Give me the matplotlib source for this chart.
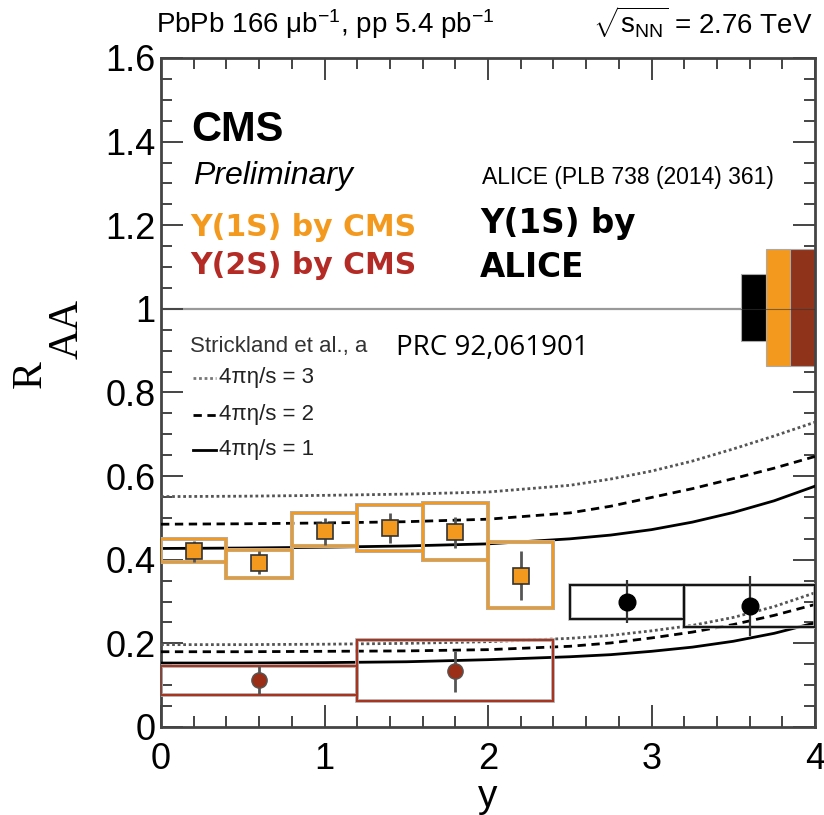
import numpy as np
import matplotlib
matplotlib.use("Agg")
import matplotlib.pyplot as plt
from matplotlib.ticker import MultipleLocator

plt.rcParams['font.family'] = ['Liberation Sans', 'DejaVu Sans']
plt.rcParams['mathtext.fontset'] = 'custom'
plt.rcParams['mathtext.rm'] = 'Liberation Sans'
plt.rcParams['mathtext.it'] = 'Liberation Sans:italic'

# CMS Y(1S)
y1s_x = [0.2, 0.6, 1.0, 1.4, 1.8, 2.2]
y1s_val = [0.420, 0.393, 0.468, 0.477, 0.466, 0.362]
y1s_err = [0.026, 0.027, 0.032, 0.036, 0.037, 0.058]
y1s_box_x = [0.0, 0.4, 0.8, 1.2, 1.6, 2.0]
y1s_box_w = [0.4, 0.4, 0.4, 0.4, 0.4, 0.4]
y1s_sys_lo = [0.394, 0.357, 0.432, 0.420, 0.400, 0.285]
y1s_sys_hi = [0.450, 0.424, 0.511, 0.532, 0.535, 0.442]

# CMS Y(2S)
y2s_x = [0.6, 1.8]
y2s_val = [0.113, 0.133]
y2s_err = [0.033, 0.049]
y2s_box_x = [0.0, 1.2]
y2s_box_w = [1.2, 1.2]
y2s_sys_lo = [0.077, 0.062]
y2s_sys_hi = [0.145, 0.207]

# ALICE Y(1S)
alice_x = [2.85, 3.6]
alice_val = [0.300, 0.290]
alice_err = [0.052, 0.072]
alice_box_x = [2.5, 3.2]
alice_box_w = [0.7, 0.8]
alice_sys_lo = [0.258, 0.240]
alice_sys_hi = [0.340, 0.340]

# global uncertainties at R_AA = 1 (ALICE, CMS 1S, CMS 2S)
gbl_x = [3.55, 3.70, 3.85]
gbl_w = [0.15, 0.15, 0.15]
gbl_lo = [0.923, 0.864, 0.864]
gbl_hi = [1.084, 1.144, 1.144]
gbl_col = ['black', '#F39A1E', '#8F331B']

# Strickland et al. curves
th_x = [0, 0.5, 1, 1.5, 2, 2.5, 2.75, 3, 3.25, 3.5, 3.75, 4]
th1_eta3 = [0.551, 0.552, 0.554, 0.557, 0.562, 0.578, 0.593, 0.612, 0.636,
            0.665, 0.696, 0.729]
th1_eta2 = [0.485, 0.486, 0.488, 0.491, 0.497, 0.512, 0.528, 0.549, 0.570,
            0.594, 0.619, 0.647]
th1_eta1 = [0.427, 0.428, 0.430, 0.433, 0.438, 0.450, 0.459, 0.472, 0.490,
            0.513, 0.541, 0.576]
th2_eta3 = [0.197, 0.197, 0.198, 0.200, 0.204, 0.212, 0.219, 0.230, 0.243,
            0.262, 0.288, 0.321]
th2_eta2 = [0.180, 0.180, 0.181, 0.182, 0.185, 0.193, 0.201, 0.213, 0.227,
            0.245, 0.267, 0.293]
th2_eta1 = [0.153, 0.153, 0.154, 0.156, 0.161, 0.168, 0.173, 0.181, 0.191,
            0.205, 0.224, 0.249]

orange = '#F39A1E'
red = '#A8351F'

W, H = 824, 815
fig = plt.figure(figsize=(W / 100, H / 100), dpi=100)
ax = fig.add_axes([161 / W, 1 - 727 / H, (815 - 161) / W, (727 - 58) / H])


def fx(px):
    return px / W


def fy(py):
    return 1 - py / H


# reference line and global boxes
ax.plot([0, 3.55], [1, 1], color='#999999', lw=1.6, zorder=1)
ax.bar(gbl_x, np.subtract(gbl_hi, gbl_lo), bottom=gbl_lo, width=gbl_w,
       align='edge', color=gbl_col, edgecolor='#aaaaaa', lw=0.8, zorder=2)
ax.plot([3.55, 4], [1, 1], color='#333333', lw=0.8, alpha=0.6, zorder=3)

# theory curves
for ys, yb, ls, col in ((th1_eta3, th2_eta3, (0, (1, 1)), '#555555'),
                        (th1_eta2, th2_eta2, (0, (3, 2)), 'black'),
                        (th1_eta1, th2_eta1, '-', 'black')):
    ax.plot(th_x, ys, ls=ls, color=col, lw=2, zorder=4)
    ax.plot(th_x, yb, ls=ls, color=col, lw=2, zorder=4)

# systematic boxes
for bx, bw, lo, hi, col, lw in ((y1s_box_x, y1s_box_w, y1s_sys_lo,
                                 y1s_sys_hi, orange, 1.7),
                                (y2s_box_x, y2s_box_w, y2s_sys_lo,
                                 y2s_sys_hi, red, 1.5),
                                (alice_box_x, alice_box_w, alice_sys_lo,
                                 alice_sys_hi, '#111111', 1.4)):
    ax.bar(bx, np.subtract(hi, lo), bottom=lo, width=bw, align='edge',
           fill=False, edgecolor='#b0b0b0', lw=lw + 1.2, zorder=5)
    ax.bar(bx, np.subtract(hi, lo), bottom=lo, width=bw, align='edge',
           fill=False, edgecolor=col, lw=lw, zorder=5)

# points
ax.errorbar(y1s_x, y1s_val, yerr=y1s_err, fmt='s', ms=12, mfc=orange,
            mec='#333333', mew=1.2, ecolor='#555555', elinewidth=2,
            capsize=0, zorder=7)
ax.errorbar(y2s_x, y2s_val, yerr=y2s_err, fmt='o', ms=11, mfc='#9B2E16',
            mec='#555555', mew=1.0, ecolor='#555555', elinewidth=2,
            capsize=0, zorder=7)
ax.errorbar(alice_x, alice_val, yerr=alice_err, fmt='o', ms=12, mfc='black',
            mec='black', ecolor='#333333', elinewidth=1.6, capsize=0, zorder=7)

ax.set_xlim(0, 4)
ax.set_ylim(0, 1.6)
ax.xaxis.set_major_locator(MultipleLocator(1))
ax.xaxis.set_minor_locator(MultipleLocator(0.2))
ax.yaxis.set_major_locator(MultipleLocator(0.2))
ax.yaxis.set_minor_locator(MultipleLocator(0.05))
ax.set_yticks([0, 0.2, 0.4, 0.6, 0.8, 1.0, 1.2, 1.4, 1.6])
ax.set_yticklabels(['0', '0.2', '0.4', '0.6', '0.8', '1', '1.2', '1.4', '1.6'])
ax.tick_params(which='both', direction='in', top=True, right=True,
               color='#444444', width=1.4, labelsize=26)
ax.tick_params(which='major', length=16)
ax.tick_params(which='minor', length=8)
ax.tick_params(axis='x', pad=11)
ax.tick_params(axis='y', pad=4)
for s in ax.spines.values():
    s.set_linewidth(2)
    s.set_color('#444444')

ax.set_xlabel('y', fontsize=28, labelpad=1)

# y label
fig.text(fx(31), fy(374), 'R', rotation=90, ha='center', va='center',
         family='Liberation Serif', fontsize=30)
fig.text(fx(67), fy(329), 'AA', rotation=90, ha='center', va='center',
         family='Liberation Serif', fontsize=30)

# header
fig.text(fx(156), fy(33),
         r'PbPb 166 $\mathrm{\mu}$b$^{\mathrm{-1}}$, pp 5.4 pb$^{\mathrm{-1}}$',
         fontsize=20, va='baseline')
fig.text(fx(813), fy(33), r'$\sqrt{\mathrm{s}_{\mathrm{NN}}}$ = 2.76 TeV',
         fontsize=20, va='baseline', ha='right')

# labels inside
fig.text(fx(191), fy(141), 'CMS', fontsize=30, fontweight='bold',
         va='baseline')
fig.text(fx(193), fy(184), 'Preliminary', fontsize=23, style='italic',
         va='baseline')
fig.text(fx(190), fy(236), 'Y(1S) by CMS', fontsize=21.5, fontweight='bold',
         family='DejaVu Sans', color=orange, va='baseline')
fig.text(fx(190), fy(274), 'Y(2S) by CMS', fontsize=21.5, fontweight='bold',
         family='DejaVu Sans', color='#B42B25', va='baseline')
fig.text(fx(482), fy(184), 'ALICE (PLB 738 (2014) 361)', fontsize=16.5,
         va='baseline')
fig.text(fx(480), fy(233), 'Y(1S) by', fontsize=23.5, fontweight='bold',
         family='DejaVu Sans', va='baseline')
fig.text(fx(480), fy(277), 'ALICE', fontsize=23.5, fontweight='bold',
         family='DejaVu Sans', va='baseline')

fig.text(fx(190), fy(352), 'Strickland et al., a', fontsize=16,
         color='#333333', va='baseline')
fig.text(fx(396), fy(355), 'PRC 92,061901', fontsize=20, family='Open Sans',
         va='baseline',
         bbox=dict(facecolor='white', edgecolor='none', pad=2))

leg = (('= 3', (0, (1, 1)), '#777777', 378),
       ('= 2', (0, (3, 2)), 'black', 415),
       ('= 1', '-', 'black', 450))
for txt, ls, col, py in leg:
    fig.add_artist(plt.Line2D([fx(193), fx(216)], [fy(py), fy(py)],
                              ls=ls, color=col, lw=2))
    fig.text(fx(219), fy(py), '4\u03c0\u03b7/s ' + txt, fontsize=16,
             va='center', color='#222222')

fig.savefig('out.png', dpi=100)
